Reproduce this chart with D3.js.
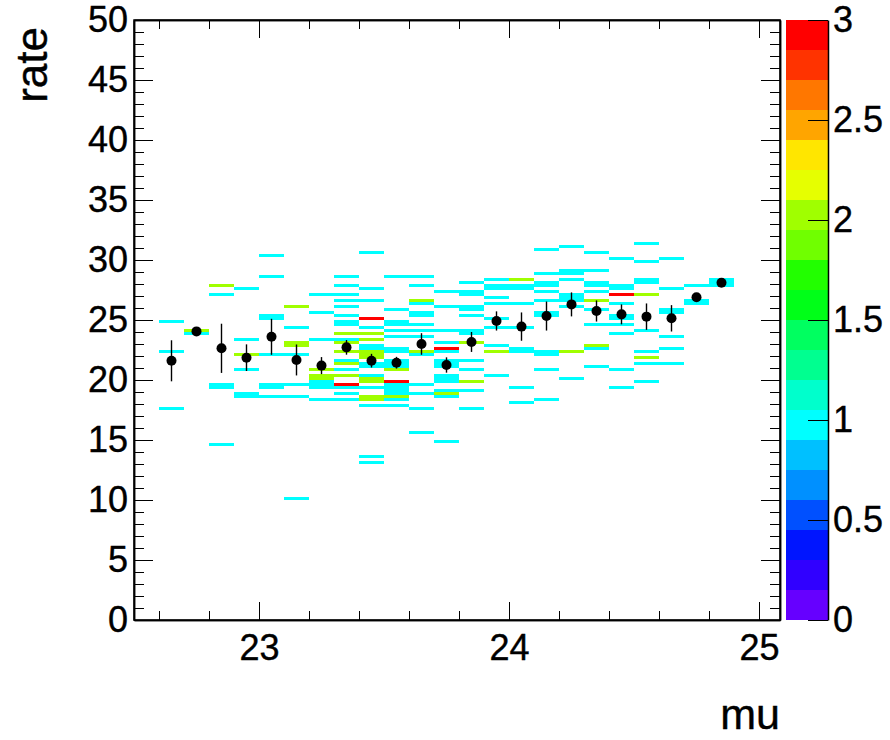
<!DOCTYPE html>
<html>
<head>
<meta charset="utf-8">
<script src="https://cdn.jsdelivr.net/npm/d3@7/dist/d3.min.js"></script>
<style>
  html, body { margin: 0; padding: 0; background: #fff; }
  svg text { font-family: "Liberation Sans", Arial, Helvetica, sans-serif; fill: #000; }
</style>
</head>
<body>
<svg id="chart" width="890" height="740"></svg>
<script>
// ---------------- data ----------------
const muBinWidth = 0.1;     // histogram bin width along mu
const rateBinWidth = 0.25;  // histogram bin width along rate

// 2D histogram cells: [mu bin low edge, rate bin low edge, entries]
const cells = [
  [22.6,24.75,1],[22.6,22.25,1],[22.6,17.5,1],
  [22.7,24.0,2],[22.7,23.75,1],
  [22.8,27.75,2],[22.8,27.0,1],[22.8,19.5,1],[22.8,19.25,1],[22.8,14.5,1],
  [22.9,27.5,1],[22.9,23.25,1],[22.9,22.0,2],[22.9,20.75,1],[22.9,18.75,1],[22.9,18.5,1],
  [23.0,30.25,1],[23.0,28.5,1],[23.0,25.25,1],[23.0,25.0,1],[23.0,22.0,1],[23.0,19.5,1],[23.0,19.25,1],[23.0,18.5,1],
  [23.1,26.0,2],[23.1,24.25,1],[23.1,23.0,2],[23.1,22.75,2],[23.1,22.0,1],[23.1,19.5,1],[23.1,18.5,1],[23.1,10.0,1],
  [23.2,27.0,1],[23.2,25.5,1],[23.2,23.25,1],[23.2,20.75,2],[23.2,20.25,2],[23.2,20.0,2],[23.2,19.75,1],[23.2,19.5,1],[23.2,19.25,1],[23.2,18.25,1],
  [23.3,28.5,1],[23.3,27.75,1],[23.3,27.0,1],[23.3,26.5,1],[23.3,26.0,1],[23.3,25.25,1],[23.3,24.75,1],[23.3,24.5,1],[23.3,23.75,2],[23.3,23.25,1],[23.3,23.0,2],[23.3,22.25,2],[23.3,21.5,1],[23.3,21.25,2],[23.3,20.75,1],[23.3,20.25,2],[23.3,19.5,3],[23.3,19.25,1],[23.3,18.75,1],[23.3,18.25,1],
  [23.4,30.5,1],[23.4,27.5,1],[23.4,26.5,1],[23.4,25.0,3],[23.4,24.25,1],[23.4,23.75,2],[23.4,23.25,2],[23.4,22.75,1],[23.4,22.5,1],[23.4,22.25,2],[23.4,22.0,2],[23.4,21.75,2],[23.4,21.25,1],[23.4,21.0,1],[23.4,20.25,1],[23.4,20.0,2],[23.4,19.75,2],[23.4,19.25,1],[23.4,18.5,2],[23.4,18.25,2],[23.4,17.75,1],[23.4,13.5,1],[23.4,13.0,1],
  [23.5,28.5,1],[23.5,25.75,1],[23.5,24.75,1],[23.5,24.5,1],[23.5,24.0,1],[23.5,23.5,1],[23.5,22.5,1],[23.5,22.25,1],[23.5,21.5,1],[23.5,21.25,1],[23.5,21.0,1],[23.5,20.75,2],[23.5,19.75,3],[23.5,19.5,1],[23.5,19.25,1],[23.5,19.0,1],[23.5,18.75,1],[23.5,18.5,2],[23.5,18.25,1],[23.5,17.75,1],
  [23.6,28.5,1],[23.6,27.75,1],[23.6,26.5,2],[23.6,26.25,1],[23.6,25.5,1],[23.6,25.25,1],[23.6,24.5,1],[23.6,24.0,1],[23.6,23.5,1],[23.6,22.25,2],[23.6,22.0,1],[23.6,19.5,1],[23.6,18.75,1],[23.6,17.5,1],[23.6,15.5,1],
  [23.7,27.25,1],[23.7,26.0,1],[23.7,24.0,1],[23.7,23.0,1],[23.7,22.5,3],[23.7,22.25,1],[23.7,21.5,1],[23.7,21.25,1],[23.7,21.0,1],[23.7,20.25,1],[23.7,20.0,1],[23.7,19.75,1],[23.7,19.0,1],[23.7,18.75,2],[23.7,18.5,1],[23.7,14.75,1],
  [23.8,28.0,1],[23.8,27.25,1],[23.8,27.0,1],[23.8,26.0,1],[23.8,25.75,1],[23.8,25.25,1],[23.8,24.0,1],[23.8,23.75,1],[23.8,23.0,2],[23.8,21.5,1],[23.8,20.75,1],[23.8,19.75,2],[23.8,19.0,1],[23.8,17.5,1],
  [23.9,28.25,1],[23.9,27.75,1],[23.9,27.5,1],[23.9,26.75,1],[23.9,26.25,1],[23.9,25.0,1],[23.9,24.25,1],[23.9,22.75,1],[23.9,22.25,2],[23.9,20.25,1],
  [24.0,28.25,2],[24.0,27.75,1],[24.0,27.5,1],[24.0,26.25,1],[24.0,24.25,1],[24.0,22.5,1],[24.0,22.25,1],[24.0,19.25,1],[24.0,18.0,1],
  [24.1,30.75,1],[24.1,28.75,1],[24.1,28.0,1],[24.1,27.75,1],[24.1,27.25,1],[24.1,26.5,1],[24.1,25.5,1],[24.1,25.25,1],[24.1,22.25,1],[24.1,22.0,1],[24.1,20.75,1],[24.1,18.25,1],
  [24.2,31.0,1],[24.2,29.0,1],[24.2,28.75,1],[24.2,28.25,1],[24.2,27.0,1],[24.2,26.75,1],[24.2,26.5,1],[24.2,26.0,1],[24.2,22.25,2],[24.2,20.0,1],
  [24.3,30.5,1],[24.3,29.0,1],[24.3,28.0,1],[24.3,27.75,1],[24.3,27.25,1],[24.3,26.5,2],[24.3,25.75,1],[24.3,24.5,1],[24.3,22.75,2],[24.3,22.5,1],[24.3,21.0,1],
  [24.4,30.0,1],[24.4,27.75,1],[24.4,27.5,1],[24.4,27.0,3],[24.4,26.25,1],[24.4,25.25,1],[24.4,25.0,1],[24.4,24.5,1],[24.4,23.75,1],[24.4,20.75,1],[24.4,19.25,1],
  [24.5,31.25,1],[24.5,29.75,1],[24.5,28.25,1],[24.5,28.0,1],[24.5,27.0,2],[24.5,24.0,1],[24.5,22.25,1],[24.5,21.75,2],[24.5,21.25,1],[24.5,19.75,1],
  [24.6,30.0,1],[24.6,27.5,1],[24.6,25.75,1],[24.6,25.5,1],[24.6,23.5,1],[24.6,22.5,1],[24.6,21.25,1],
  [24.7,27.75,1],[24.7,26.5,1],[24.7,26.25,1],
  [24.8,28.25,1],[24.8,28.0,1],[24.8,27.75,1]
];

// profile (mean rate per mu bin, with error on the mean)
const profMu   = [22.65,22.75,22.85,22.95,23.05,23.15,23.25,23.35,23.45,23.55,23.65,23.75,23.85,23.95,24.05,24.15,24.25,24.35,24.45,24.55,24.65,24.75,24.85];
const profMean = [21.6,24.05,22.64,21.86,23.6,21.67,21.2,22.72,21.61,21.44,23.0,21.25,23.17,24.92,24.45,25.33,26.3,25.75,25.47,25.28,25.14,26.89,28.11];
const profErr  = [1.71,0.15,2.05,1.11,1.5,1.29,0.71,0.61,0.57,0.49,0.9,0.64,0.83,0.8,1.18,1.21,1.0,0.88,0.83,1.1,1.1,0.3,0.2];

// axis ticks
const xMajorTicks = [23, 24, 25];
const xMinorTicks = [22.6, 22.8, 23.2, 23.4, 23.6, 23.8, 24.2, 24.4, 24.6, 24.8];
const yMajorTicks = [0, 5, 10, 15, 20, 25, 30, 35, 40, 45, 50];
const zTicks = [0, 0.5, 1, 1.5, 2, 2.5, 3];
const zTickLabels = ["0", "0.5", "1", "1.5", "2", "2.5", "3"];

// palette (20 levels, low -> high)
const palette = ["#6600ff","#3000ff","#0015ff","#0050ff","#0090ff","#00c0ff","#00ffff","#00ffcc","#00ff90","#00ff60",
                 "#00ff18","#22ff00","#70ff00","#a0ff00","#e6ff00","#ffe600","#ffa500","#ff7700","#ff3300","#ff0000"];
const zMin = 0, zMax = 3;

const xTitle = "mu";
const yTitle = "rate";

// ---------------- drawing ----------------
const svg = d3.select("#chart");
const L = 134, R = 780, T = 20, B = 620;

const x = d3.scaleLinear().domain([22.5, 25.084]).range([L, R]);
const y = d3.scaleLinear().domain([0, 50]).range([B, T]);
const z = d3.scaleLinear().domain([zMin, zMax]).range([B, T]);
const nLev = palette.length;
const levelOf = v => Math.max(0, Math.min(nLev - 1, Math.floor((v - zMin) / ((zMax - zMin) / nLev))));

svg.append("rect").attr("width", 890).attr("height", 740).attr("fill", "#fff");

// cells
svg.append("g").selectAll("rect").data(cells).join("rect")
  .attr("x", d => x(d[0]))
  .attr("width", d => x(d[0] + muBinWidth) - x(d[0]))
  .attr("y", d => y(d[1] + rateBinWidth))
  .attr("height", d => y(d[1]) - y(d[1] + rateBinWidth))
  .attr("fill", d => palette[levelOf(d[2])])
  .attr("shape-rendering", "crispEdges");

// axes
const font = "Liberation Sans, Arial, Helvetica, sans-serif";
function styleAxis(g) {
  g.selectAll("line").attr("stroke", "#000").attr("stroke-width", 1);
  g.selectAll("path").attr("stroke", "#000").attr("stroke-width", 1.5);
  g.selectAll("text").attr("font-size", 36).attr("font-family", font)
    .attr("stroke", "#000").attr("stroke-width", 0.4);
}
const yMinor = d3.range(0, 51, 1).filter(v => v % 5 !== 0);

// left
svg.append("g").attr("transform", `translate(${L},0)`)
  .call(d3.axisLeft(y).tickValues(yMinor).tickSize(-10).tickSizeOuter(0).tickFormat(""))
  .call(styleAxis);
svg.append("g").attr("transform", `translate(${L},0)`)
  .call(d3.axisLeft(y).tickValues(yMajorTicks).tickSize(-19).tickSizeOuter(0).tickPadding(6).tickFormat(d3.format("d")))
  .call(styleAxis);
// right
svg.append("g").attr("transform", `translate(${R},0)`)
  .call(d3.axisRight(y).tickValues(yMinor).tickSize(-10).tickSizeOuter(0).tickFormat(""))
  .call(styleAxis);
svg.append("g").attr("transform", `translate(${R},0)`)
  .call(d3.axisRight(y).tickValues(yMajorTicks).tickSize(-19).tickSizeOuter(0).tickFormat(""))
  .call(styleAxis);
// bottom
svg.append("g").attr("transform", `translate(0,${B})`)
  .call(d3.axisBottom(x).tickValues(xMinorTicks).tickSize(-9).tickSizeOuter(0).tickFormat(""))
  .call(styleAxis);
svg.append("g").attr("transform", `translate(0,${B})`)
  .call(d3.axisBottom(x).tickValues(xMajorTicks).tickSize(-18).tickSizeOuter(0).tickPadding(14).tickFormat(d3.format("d")))
  .call(styleAxis);
// top
svg.append("g").attr("transform", `translate(0,${T})`)
  .call(d3.axisTop(x).tickValues(xMinorTicks).tickSize(-9).tickSizeOuter(0).tickFormat(""))
  .call(styleAxis);
svg.append("g").attr("transform", `translate(0,${T})`)
  .call(d3.axisTop(x).tickValues(xMajorTicks).tickSize(-18).tickSizeOuter(0).tickFormat(""))
  .call(styleAxis);

// frame
svg.append("rect").attr("x", L).attr("y", T).attr("width", R - L).attr("height", B - T)
  .attr("fill", "none").attr("stroke", "#000").attr("stroke-width", 1.5);

// profile
const prof = profMu.map((m, i) => ({ m, v: profMean[i], e: profErr[i] }));
svg.append("g").selectAll("line").data(prof).join("line")
  .attr("x1", d => x(d.m)).attr("x2", d => x(d.m))
  .attr("y1", d => y(d.v - d.e)).attr("y2", d => y(d.v + d.e))
  .attr("stroke", "#000").attr("stroke-width", 1.4);
svg.append("g").selectAll("circle").data(prof).join("circle")
  .attr("cx", d => x(d.m)).attr("cy", d => y(d.v)).attr("r", 5).attr("fill", "#000");

// colour bar
const CL = 786, CR = 828;
const levels = d3.range(nLev).map(i => ({ i, lo: zMin + i * (zMax - zMin) / nLev, hi: zMin + (i + 1) * (zMax - zMin) / nLev }));
svg.append("g").selectAll("rect").data(levels).join("rect")
  .attr("x", CL).attr("width", CR - CL)
  .attr("y", d => z(d.hi)).attr("height", d => z(d.lo) - z(d.hi))
  .attr("fill", d => palette[d.i]).attr("shape-rendering", "crispEdges");
svg.append("g").attr("transform", `translate(${CR},0)`)
  .call(d3.axisRight(z).tickValues(zTicks).tickSize(-20).tickSizeOuter(0).tickPadding(5)
        .tickFormat((d, i) => zTickLabels[i]))
  .call(styleAxis);

// titles
svg.append("text").attr("x", R).attr("y", 729).attr("text-anchor", "end")
  .attr("font-size", 43).attr("font-family", font).attr("stroke", "#000").attr("stroke-width", 0.4).text(xTitle);
svg.append("text").attr("transform", "translate(47,27) rotate(-90)").attr("text-anchor", "end")
  .attr("font-size", 44).attr("font-family", font).attr("stroke", "#000").attr("stroke-width", 0.4).text(yTitle);
</script>
</body>
</html>
